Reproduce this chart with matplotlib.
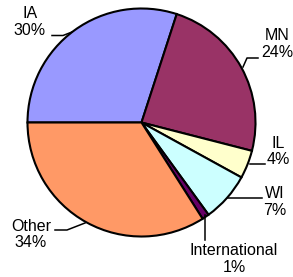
import matplotlib
matplotlib.use("Agg")
import matplotlib.pyplot as plt

# data
labels = ["IA", "MN", "IL", "WI", "International", "Other"]
shares = [30, 24, 4, 7, 1, 34]
colors = ["#9999FF", "#993366", "#FFFFCC", "#CCFFFF", "#660066", "#FF9966"]

W, H = 293, 277

fig = plt.figure(figsize=(W / 100, H / 100), dpi=100)
ax = fig.add_axes([0, 0, 1, 1])
ax.set_xlim(0, W)
ax.set_ylim(0, H)
ax.set_aspect("equal")
ax.axis("off")

def fy(y):
    return H - y

cx, cy, r = 141.5, 122.5, 114

ax.pie(shares, colors=colors, startangle=180, counterclock=False,
       center=(cx, fy(cy)), radius=r, frame=True,
       wedgeprops=dict(edgecolor="black", linewidth=1.5))
ax.set_xlim(0, W)
ax.set_ylim(0, H)
ax.axis("off")

# label text positions and leader lines (pixel coords, y down)
text_pos = [(30, 22), (277, 44), (278, 151.5), (275, 202), (234, 259), (31, 234.5)]
leaders = [
    [(52, 35.5), (63, 35.5), (72, 32)],
    [(258, 58), (247, 58), (243, 67)],
    [(265, 164), (250, 164)],
    [(262, 198), (228, 198)],
    [(205, 240), (205, 215)],
    [(55, 230), (67, 230), (85, 223)],
]

for lab, s, (tx, ty), pts in zip(labels, shares, text_pos, leaders):
    ax.text(tx, fy(ty), f"{lab}\n{s}%", ha="center", va="center",
            fontsize=11.5, family="Liberation Sans", linespacing=1.15)
    xs = [p[0] for p in pts]
    ys = [fy(p[1]) for p in pts]
    ax.plot(xs, ys, color="black", linewidth=1.1)

fig.savefig("out.png", dpi=100)
